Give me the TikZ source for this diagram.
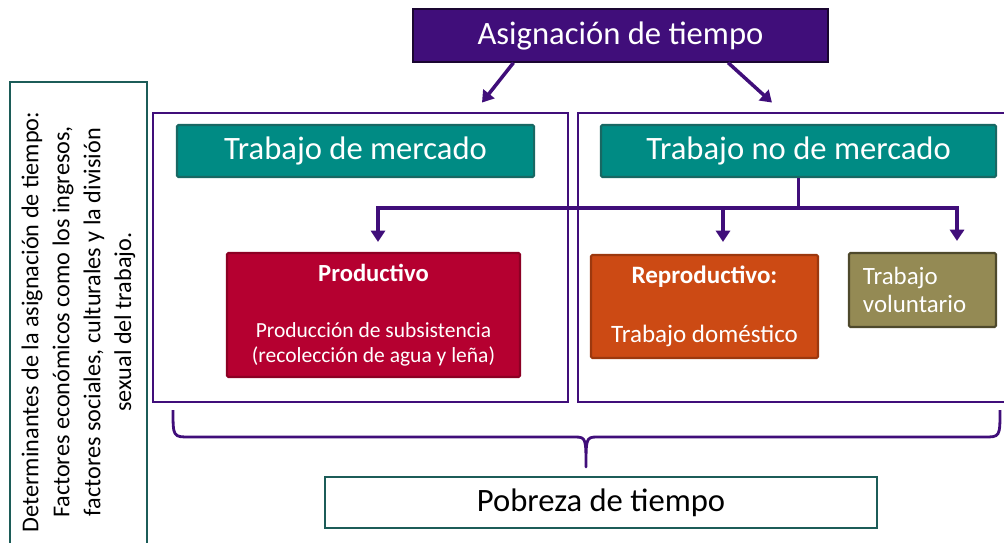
\documentclass[tikz,border=0pt]{standalone}
\usepackage{fontspec}
\setmainfont{Carlito}
\usepackage{xcolor}
\usetikzlibrary{positioning,calc,arrows.meta}

\definecolor{tpurple}{RGB}{64,14,122}
\definecolor{teal}{RGB}{0,139,132}
\definecolor{tealedge}{RGB}{24,104,99}
\definecolor{sideedge}{RGB}{28,92,88}
\definecolor{crimson}{RGB}{181,0,48}
\definecolor{crimsonedge}{RGB}{140,0,36}
\definecolor{rust}{RGB}{204,74,20}
\definecolor{rustedge}{RGB}{156,56,14}
\definecolor{olive}{RGB}{148,138,84}
\definecolor{oliveedge}{RGB}{78,73,44}

\tikzset{
    frame/.style={draw=tpurple, line width=2pt, inner sep=0pt},
    titlebox/.style={draw=black!60!tpurple, fill=tpurple, line width=1pt, text=white,
        minimum width=10.375cm, minimum height=1.325cm, font=\fontsize{23.2}{27}\selectfont},
    headbox/.style={draw=tealedge, fill=teal, line width=1.5pt, text=white, rounded corners=1pt,
        minimum height=1.3cm, font=\fontsize{23.2}{27}\selectfont},
    workbox/.style={line width=1.5pt, text=white, rounded corners=1pt, align=center,
        font=\fontsize{15.3}{18}\selectfont},
    pobox/.style={draw=sideedge, fill=white, line width=2pt, minimum width=13.8cm,
        minimum height=1.275cm, font=\fontsize{23.2}{27}\selectfont},
    link/.style={draw=tpurple, line width=2.5pt, -{Triangle[width=10pt,length=8pt]}},
    bar/.style={draw=tpurple, line width=2.5pt},
}

\begin{document}
\begin{tikzpicture}[x=0.025cm, y=-0.025cm]
    \useasboundingbox (0,0) rectangle (1004,542);

    % Side note
    \node[draw=sideedge, line width=2pt, rotate=90, minimum width=12cm, minimum height=3.425cm,
        align=center, font=\fontsize{17.2}{22}\selectfont] (determinantes) at (78.5,322)
        {Determinantes de la asignación de tiempo:\\Factores económicos como los ingresos,\\
         factores sociales, culturales y la división\\sexual del trabajo.};

    % Top
    \node[titlebox] (asig) at (620.5,35.5) {Asignación de tiempo};

    % Frames
    \node[frame, minimum width=10.375cm, minimum height=7.225cm] (mercadoframe) at (360.5,257.5) {};
    \node[frame, minimum width=10.8cm, minimum height=7.225cm] (nomercadoframe) at (794,257.5) {};

    \node[headbox, minimum width=8.925cm] (mercado) at (355.5,151) {Trabajo de mercado};
    \node[headbox, minimum width=9.875cm] (nomercado) at (798.5,151) {Trabajo no de mercado};

    % Work boxes
    \node[workbox, draw=crimsonedge, fill=crimson, minimum width=7.325cm, minimum height=3.1cm]
        (productivo) at (373.5,315)
        {{\bfseries\fontsize{17.5}{19}\selectfont Productivo}\\[22pt]
         Producción de subsistencia\\(recolección de agua y leña)};
    \node[workbox, draw=rustedge, fill=rust, minimum width=5.675cm, minimum height=2.575cm,
        font=\fontsize{17.8}{19}\selectfont]
        (reproductivo) at (704.5,306.5)
        {\textbf{Reproductivo:}\\[23pt]Trabajo doméstico};
    \node[workbox, draw=oliveedge, fill=olive, align=left, text width=2.975cm, inner xsep=0.35cm,
        minimum height=1.85cm, font=\fontsize{17.7}{20}\selectfont]
        (voluntario) at (922.5,290) {Trabajo\\voluntario};

    % Bottom
    \node[pobox] (pobreza) at (601,502.5) {Pobreza de tiempo};

    % Arrows
    \draw[link] ([xshift=-2.675cm]asig.south) -- ([shift={(121.5,-9)}]mercadoframe.north);
    \draw[link] ([xshift=2.69cm]asig.south) -- ([shift={(-22,-9)}]nomercadoframe.north);

    \coordinate (bus) at ([yshift=-0.75cm]nomercado.south);
    \draw[bar] (nomercado.south) -- (bus);
    \draw[link] (bus) -| ([shift={(4.5,-10)}]productivo.north);
    \draw[link] (bus) -| ([shift={(18.5,-12)}]reproductivo.north);
    \draw[link] (bus) -| ([shift={(34.5,-11)}]voluntario.north);

    % Brace
    \draw[tpurple, line width=2pt, line join=round]
        (173,410) .. controls (173,437) and (173,437) .. (190,437) -- (576,437)
        .. controls (586,437) and (586,440) .. (586,467)
        .. controls (586,440) and (586,437) .. (596,437) -- (984,437)
        .. controls (1000,437) and (1000,437) .. (1000,410);
\end{tikzpicture}
\end{document}
